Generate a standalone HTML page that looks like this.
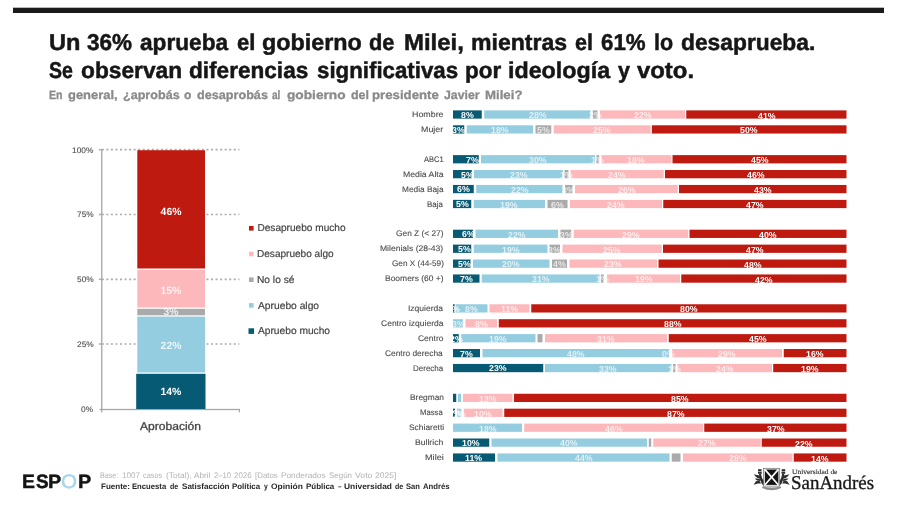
<!DOCTYPE html>
<html lang="es">
<head>
<meta charset="utf-8">
<title>Aprobación del gobierno de Milei</title>
<style>
html,body{margin:0;padding:0;background:#fff;}
body{width:900px;height:505px;position:relative;overflow:hidden;font-family:"Liberation Sans",sans-serif;color:#111;}
#pg{position:absolute;left:0;top:0;width:900px;height:505px;overflow:hidden;filter:blur(0.5px);}
.t{position:absolute;white-space:nowrap;line-height:1;transform-origin:0 0;text-rendering:geometricPrecision;}
.l{position:absolute;margin:0;white-space:nowrap;line-height:1;font-size:0;}
.w{display:inline-block;font-size:var(--fs);line-height:1;transform-origin:0 0;text-rendering:geometricPrecision;}
.b{position:absolute;}
</style>
</head>
<body>
<div id="pg">
<svg class="b" style="left:0;top:0" width="900" height="505" viewBox="0 0 900 505">
<rect x="13" y="7.7" width="871" height="5.3" fill="#1b1b1b"/>
<line x1="98.8" x2="101.5" y1="344.00" y2="344.00" stroke="#b0b0b0" stroke-width="1.5"/>
<line x1="101.8" x2="239.4" y1="344.00" y2="344.00" stroke="#ababab" stroke-width="1.7" stroke-dasharray="2 2.55"/>
<line x1="98.8" x2="101.5" y1="279.30" y2="279.30" stroke="#b0b0b0" stroke-width="1.5"/>
<line x1="101.8" x2="239.4" y1="279.30" y2="279.30" stroke="#ababab" stroke-width="1.7" stroke-dasharray="2 2.55"/>
<line x1="98.8" x2="101.5" y1="214.50" y2="214.50" stroke="#b0b0b0" stroke-width="1.5"/>
<line x1="101.8" x2="239.4" y1="214.50" y2="214.50" stroke="#ababab" stroke-width="1.7" stroke-dasharray="2 2.55"/>
<line x1="98.8" x2="101.5" y1="149.70" y2="149.70" stroke="#b0b0b0" stroke-width="1.5"/>
<line x1="101.8" x2="239.4" y1="149.70" y2="149.70" stroke="#ababab" stroke-width="1.7" stroke-dasharray="2 2.55"/>
<rect x="101.10" y="149.00" width="1.30" height="263.40" fill="#a6a6a6"/>
<rect x="99.50" y="408.85" width="140.30" height="1.30" fill="#a6a6a6"/>
<rect x="238.80" y="409.00" width="1.20" height="3.40" fill="#a6a6a6"/>
<rect x="136.20" y="373.80" width="69.30" height="35.20" fill="#075a73"/>
<rect x="137.30" y="316.60" width="67.70" height="55.90" fill="#94cddf"/>
<rect x="137.30" y="308.80" width="67.70" height="6.50" fill="#aaaaaa"/>
<rect x="137.30" y="269.80" width="67.70" height="37.70" fill="#fdb8bb"/>
<rect x="137.30" y="150.20" width="67.70" height="118.30" fill="#be1a10"/>
<rect x="249.00" y="226.00" width="4.60" height="4.60" fill="#be1a10"/>
<rect x="249.00" y="251.70" width="4.60" height="4.60" fill="#fdb8bb"/>
<rect x="249.00" y="277.40" width="4.60" height="4.60" fill="#aaaaaa"/>
<rect x="249.00" y="303.10" width="4.60" height="4.60" fill="#94cddf"/>
<rect x="248.50" y="328.30" width="5.60" height="5.60" fill="#075a73"/>
<rect x="453.00" y="110.38" width="28.75" height="8.25" fill="#075a73"/>
<rect x="484.25" y="110.38" width="106.25" height="8.25" fill="#94cddf"/>
<rect x="592.75" y="110.38" width="4.75" height="8.25" fill="#aaaaaa"/>
<rect x="600.00" y="110.38" width="85.00" height="8.25" fill="#fdb8bb"/>
<rect x="686.25" y="110.38" width="160.25" height="8.25" fill="#be1a10"/>
<rect x="453.00" y="125.29" width="11.25" height="8.25" fill="#075a73"/>
<rect x="466.75" y="125.29" width="66.25" height="8.25" fill="#94cddf"/>
<rect x="535.50" y="125.29" width="15.75" height="8.25" fill="#aaaaaa"/>
<rect x="553.75" y="125.29" width="96.85" height="8.25" fill="#fdb8bb"/>
<rect x="651.90" y="125.29" width="194.60" height="8.25" fill="#be1a10"/>
<rect x="453.00" y="155.12" width="25.75" height="8.25" fill="#075a73"/>
<rect x="481.00" y="155.12" width="114.00" height="8.25" fill="#94cddf"/>
<rect x="596.40" y="155.12" width="2.80" height="8.25" fill="#aaaaaa"/>
<rect x="601.25" y="155.12" width="70.00" height="8.25" fill="#fdb8bb"/>
<rect x="672.50" y="155.12" width="174.00" height="8.25" fill="#be1a10"/>
<rect x="453.00" y="170.03" width="18.75" height="8.25" fill="#075a73"/>
<rect x="474.00" y="170.03" width="89.00" height="8.25" fill="#94cddf"/>
<rect x="564.60" y="170.03" width="3.80" height="8.25" fill="#aaaaaa"/>
<rect x="570.50" y="170.03" width="93.25" height="8.25" fill="#fdb8bb"/>
<rect x="665.00" y="170.03" width="181.50" height="8.25" fill="#be1a10"/>
<rect x="453.00" y="184.95" width="20.75" height="8.25" fill="#075a73"/>
<rect x="476.25" y="184.95" width="86.25" height="8.25" fill="#94cddf"/>
<rect x="565.00" y="184.95" width="7.50" height="8.25" fill="#aaaaaa"/>
<rect x="575.00" y="184.95" width="102.75" height="8.25" fill="#fdb8bb"/>
<rect x="679.00" y="184.95" width="167.50" height="8.25" fill="#be1a10"/>
<rect x="453.00" y="199.87" width="18.25" height="8.25" fill="#075a73"/>
<rect x="473.75" y="199.87" width="71.25" height="8.25" fill="#94cddf"/>
<rect x="547.50" y="199.87" width="20.00" height="8.25" fill="#aaaaaa"/>
<rect x="570.00" y="199.87" width="92.00" height="8.25" fill="#fdb8bb"/>
<rect x="663.25" y="199.87" width="183.25" height="8.25" fill="#be1a10"/>
<rect x="453.00" y="229.69" width="20.00" height="8.25" fill="#075a73"/>
<rect x="475.50" y="229.69" width="82.50" height="8.25" fill="#94cddf"/>
<rect x="560.50" y="229.69" width="10.75" height="8.25" fill="#aaaaaa"/>
<rect x="573.75" y="229.69" width="114.45" height="8.25" fill="#fdb8bb"/>
<rect x="689.50" y="229.69" width="157.00" height="8.25" fill="#be1a10"/>
<rect x="453.00" y="244.61" width="18.25" height="8.25" fill="#075a73"/>
<rect x="473.75" y="244.61" width="73.75" height="8.25" fill="#94cddf"/>
<rect x="549.50" y="244.61" width="10.50" height="8.25" fill="#aaaaaa"/>
<rect x="562.50" y="244.61" width="99.25" height="8.25" fill="#fdb8bb"/>
<rect x="663.00" y="244.61" width="183.50" height="8.25" fill="#be1a10"/>
<rect x="453.00" y="259.52" width="17.50" height="8.25" fill="#075a73"/>
<rect x="473.00" y="259.52" width="76.50" height="8.25" fill="#94cddf"/>
<rect x="552.00" y="259.52" width="15.00" height="8.25" fill="#aaaaaa"/>
<rect x="569.50" y="259.52" width="87.50" height="8.25" fill="#fdb8bb"/>
<rect x="658.50" y="259.52" width="188.00" height="8.25" fill="#be1a10"/>
<rect x="453.00" y="274.44" width="26.50" height="8.25" fill="#075a73"/>
<rect x="481.75" y="274.44" width="117.75" height="8.25" fill="#94cddf"/>
<rect x="600.90" y="274.44" width="2.80" height="8.25" fill="#aaaaaa"/>
<rect x="607.00" y="274.44" width="73.00" height="8.25" fill="#fdb8bb"/>
<rect x="681.25" y="274.44" width="165.25" height="8.25" fill="#be1a10"/>
<rect x="453.00" y="304.27" width="1.60" height="8.25" fill="#075a73"/>
<rect x="455.60" y="304.27" width="31.90" height="8.25" fill="#94cddf"/>
<rect x="489.50" y="304.27" width="40.00" height="8.25" fill="#fdb8bb"/>
<rect x="531.25" y="304.27" width="315.25" height="8.25" fill="#be1a10"/>
<rect x="453.00" y="319.19" width="10.00" height="8.25" fill="#94cddf"/>
<rect x="465.50" y="319.19" width="31.50" height="8.25" fill="#fdb8bb"/>
<rect x="498.75" y="319.19" width="347.75" height="8.25" fill="#be1a10"/>
<rect x="453.00" y="334.10" width="5.75" height="8.25" fill="#075a73"/>
<rect x="461.25" y="334.10" width="74.25" height="8.25" fill="#94cddf"/>
<rect x="537.50" y="334.10" width="5.00" height="8.25" fill="#aaaaaa"/>
<rect x="545.00" y="334.10" width="122.20" height="8.25" fill="#fdb8bb"/>
<rect x="668.75" y="334.10" width="177.75" height="8.25" fill="#be1a10"/>
<rect x="453.00" y="349.01" width="27.00" height="8.25" fill="#075a73"/>
<rect x="482.50" y="349.01" width="186.70" height="8.25" fill="#94cddf"/>
<rect x="672.00" y="349.01" width="110.00" height="8.25" fill="#fdb8bb"/>
<rect x="783.75" y="349.01" width="62.75" height="8.25" fill="#be1a10"/>
<rect x="453.00" y="363.93" width="90.25" height="8.25" fill="#075a73"/>
<rect x="545.00" y="363.93" width="126.40" height="8.25" fill="#94cddf"/>
<rect x="673.00" y="363.93" width="2.60" height="8.25" fill="#aaaaaa"/>
<rect x="677.50" y="363.93" width="94.50" height="8.25" fill="#fdb8bb"/>
<rect x="773.20" y="363.93" width="73.30" height="8.25" fill="#be1a10"/>
<rect x="453.00" y="393.76" width="3.25" height="8.25" fill="#075a73"/>
<rect x="458.00" y="393.76" width="3.00" height="8.25" fill="#94cddf"/>
<rect x="463.00" y="393.76" width="49.50" height="8.25" fill="#fdb8bb"/>
<rect x="514.00" y="393.76" width="332.50" height="8.25" fill="#be1a10"/>
<rect x="453.00" y="408.67" width="2.00" height="8.25" fill="#075a73"/>
<rect x="457.00" y="408.67" width="4.25" height="8.25" fill="#94cddf"/>
<rect x="463.75" y="408.67" width="38.75" height="8.25" fill="#fdb8bb"/>
<rect x="504.25" y="408.67" width="342.25" height="8.25" fill="#be1a10"/>
<rect x="453.00" y="423.59" width="69.00" height="8.25" fill="#94cddf"/>
<rect x="524.25" y="423.59" width="178.75" height="8.25" fill="#fdb8bb"/>
<rect x="704.25" y="423.59" width="142.25" height="8.25" fill="#be1a10"/>
<rect x="453.00" y="438.50" width="36.25" height="8.25" fill="#075a73"/>
<rect x="491.50" y="438.50" width="155.50" height="8.25" fill="#94cddf"/>
<rect x="648.75" y="438.50" width="2.50" height="8.25" fill="#aaaaaa"/>
<rect x="653.25" y="438.50" width="107.50" height="8.25" fill="#fdb8bb"/>
<rect x="761.75" y="438.50" width="84.75" height="8.25" fill="#be1a10"/>
<rect x="453.00" y="453.42" width="42.00" height="8.25" fill="#075a73"/>
<rect x="497.50" y="453.42" width="172.00" height="8.25" fill="#94cddf"/>
<rect x="671.75" y="453.42" width="8.75" height="8.25" fill="#aaaaaa"/>
<rect x="683.00" y="453.42" width="109.50" height="8.25" fill="#fdb8bb"/>
<rect x="793.75" y="453.42" width="52.75" height="8.25" fill="#be1a10"/>
<g transform="translate(750 465)">
<rect x="13.5" y="3.3" width="16.2" height="17.8" fill="#fff" stroke="#6a6a6a" stroke-width=".7"/>
<rect x="14.8" y="4.5" width="13.6" height="15.4" fill="#141414"/>
<path d="M15 4.6 L28.2 19.8 M28.2 4.6 L15 19.8" stroke="#fff" stroke-width="1.7" fill="none"/>
<g fill="#2e2e2e">
<rect x="8" y="4.2" width="3.5" height="1.9"/><rect x="8" y="6.6" width="3.7" height="2.2"/>
<path d="M9 8.8 L11 8.8 L12 13 L13.4 15.6 L13.4 20.6 L11.6 18.4 L10.6 16 L9.4 13 Z"/>
<path d="M3.8 9.2 L7 10 L9.6 10.6 L10.4 13.6 L7.4 13 L5.6 11.6 Z"/>
<path d="M3.6 19.8 L6 16.2 L9.4 15.6 L11 18.4 L8 18.6 Z"/>
<path d="M4.6 13.6 L9.6 13.8 L10.6 16 L7 15.6 Z"/>
<rect x="31.7" y="4.2" width="3.5" height="1.9"/><rect x="31.5" y="6.6" width="3.7" height="2.2"/>
<path d="M34.2 8.8 L32.2 8.8 L31.2 13 L29.8 15.6 L29.8 20.6 L31.6 18.4 L32.6 16 L33.8 13 Z"/>
<path d="M39.4 9.2 L36.2 10 L33.6 10.6 L32.8 13.6 L35.8 13 L37.6 11.6 Z"/>
<path d="M39.6 19.8 L37.2 16.2 L33.8 15.6 L32.2 18.4 L35.2 18.6 Z"/>
<path d="M38.6 13.6 L33.6 13.8 L32.6 16 L36.2 15.6 Z"/>
</g>
<path d="M12.4 21.5 Q21.6 23.6 30.8 21.5 L31.2 23 Q21.6 27.6 12 23 Z" fill="#8e8e8e"/>
</g>
</svg>

<h1 class="l" style="left:48.51px;top:30.85px;color:#161616;font-weight:bold;-webkit-text-stroke:.5px;--fs:22.9px"><span class="w" style="transform:scaleX(1.0291);">Un</span> <span class="w" style="margin-left:7.836px;transform:scaleX(0.9832);">36%</span> <span class="w" style="margin-left:6.921px;transform:scaleX(0.9898);">aprueba</span> <span class="w" style="margin-left:7.916px;transform:scaleX(0.9636);">el</span> <span class="w" style="margin-left:6.350px;transform:scaleX(1.0198);">gobierno</span> <span class="w" style="margin-left:9.446px;transform:scaleX(0.9520);">de</span> <span class="w" style="margin-left:7.566px;transform:scaleX(1.0452);">Milei,</span> <span class="w" style="margin-left:9.806px;transform:scaleX(1.0075);">mientras</span> <span class="w" style="margin-left:8.950px;transform:scaleX(0.9394);">el</span> <span class="w" style="margin-left:7.316px;transform:scaleX(0.9730);">61%</span> <span class="w" style="margin-left:6.493px;transform:scaleX(0.9389);">lo</span> <span class="w" style="margin-left:7.069px;transform:scaleX(0.9958);">desaprueba.</span></h1>
<h1 class="l" style="left:49.01px;top:58.85px;color:#161616;font-weight:bold;-webkit-text-stroke:.5px;--fs:22.9px"><span class="w" style="transform:scaleX(0.8528);">Se</span> <span class="w" style="margin-left:3.647px;transform:scaleX(0.9930);">observan</span> <span class="w" style="margin-left:6.425px;transform:scaleX(0.9866);">diferencias</span> <span class="w" style="margin-left:6.882px;transform:scaleX(0.9731);">significativas</span> <span class="w" style="margin-left:3.013px;transform:scaleX(0.9800);">por</span> <span class="w" style="margin-left:6.470px;transform:scaleX(1.0166);">ideología</span> <span class="w" style="margin-left:9.506px;transform:scaleX(0.9388);">y</span> <span class="w" style="margin-left:6.040px;transform:scaleX(1.0427);">voto.</span></h1>
<h2 class="l" style="left:49.09px;top:89.45px;color:#8a8a8a;font-weight:bold;-webkit-text-stroke:.3px;--fs:12.1px"><span class="w" style="transform:scaleX(0.8786);">En</span> <span class="w" style="margin-left:3.355px;transform:scaleX(1.0711);">general,</span> <span class="w" style="margin-left:8.365px;transform:scaleX(1.0404);">¿aprobás</span> <span class="w" style="margin-left:7.043px;transform:scaleX(1.0000);">o</span> <span class="w" style="margin-left:5.087px;transform:scaleX(1.0448);">desaprobás</span> <span class="w" style="margin-left:7.715px;transform:scaleX(0.8343);">al</span> <span class="w" style="margin-left:4.257px;transform:scaleX(1.1330);">gobierno</span> <span class="w" style="margin-left:12.418px;transform:scaleX(1.0277);">del</span> <span class="w" style="margin-left:4.209px;transform:scaleX(1.0933);">presidente</span> <span class="w" style="margin-left:10.694px;transform:scaleX(1.0174);">Javier</span> <span class="w" style="margin-left:6.150px;transform:scaleX(1.0931);">Milei?</span></h2>
<div class="t" style="left:81.30px;top:405.75px;font-size:8.0px;color:#4c4c4c;transform:scaleX(1.0400);-webkit-text-stroke:.1px;">0%</div>
<div class="t" style="left:76.62px;top:340.95px;font-size:8.0px;color:#4c4c4c;transform:scaleX(1.0400);-webkit-text-stroke:.1px;">25%</div>
<div class="t" style="left:76.62px;top:276.25px;font-size:8.0px;color:#4c4c4c;transform:scaleX(1.0400);-webkit-text-stroke:.1px;">50%</div>
<div class="t" style="left:76.62px;top:211.45px;font-size:8.0px;color:#4c4c4c;transform:scaleX(1.0400);-webkit-text-stroke:.1px;">75%</div>
<div class="t" style="left:71.94px;top:146.65px;font-size:8.0px;color:#4c4c4c;transform:scaleX(1.0400);-webkit-text-stroke:.1px;">100%</div>
<div class="t" style="left:160.38px;top:388.40px;font-size:10.4px;font-weight:bold;color:#fff;">14%</div>
<div class="t" style="left:160.62px;top:341.90px;font-size:10.4px;font-weight:bold;color:rgba(255,255,255,.8);">22%</div>
<div class="t" style="left:163.50px;top:308.40px;font-size:10.4px;font-weight:bold;color:rgba(255,255,255,.8);">3%</div>
<div class="t" style="left:160.38px;top:286.50px;font-size:10.4px;font-weight:bold;color:rgba(255,255,255,.8);">15%</div>
<div class="t" style="left:160.62px;top:207.60px;font-size:10.4px;font-weight:bold;color:#fff;">46%</div>
<div class="t" style="left:140.30px;top:421.70px;font-size:11.3px;color:#444;transform:scaleX(1.0673);-webkit-text-stroke:.3px;">Aprobación</div>
<div class="t" style="left:257.45px;top:224.45px;font-size:10.1px;color:#444;-webkit-text-stroke:.2px;">Desapruebo mucho</div>
<div class="t" style="left:257.45px;top:250.15px;font-size:10.1px;color:#444;transform:scaleX(0.9967);-webkit-text-stroke:.2px;">Desapruebo algo</div>
<div class="t" style="left:257.44px;top:275.85px;font-size:10.1px;color:#444;transform:scaleX(1.0098);-webkit-text-stroke:.2px;">No lo sé</div>
<div class="t" style="left:258.20px;top:301.55px;font-size:10.1px;color:#444;transform:scaleX(1.0168);-webkit-text-stroke:.2px;">Apruebo algo</div>
<div class="t" style="left:258.20px;top:327.25px;font-size:10.1px;color:#444;transform:scaleX(1.0106);-webkit-text-stroke:.2px;">Apruebo mucho</div>
<div class="t" style="left:411.97px;top:111.05px;font-size:8.05px;color:#4a4a4a;transform:scaleX(1.1018);-webkit-text-stroke:.1px;">Hombre</div>
<div class="t" style="left:421.07px;top:125.97px;font-size:8.05px;color:#4a4a4a;transform:scaleX(1.1013);-webkit-text-stroke:.1px;">Mujer</div>
<div class="t" style="left:423.70px;top:155.80px;font-size:8.05px;color:#4a4a4a;transform:scaleX(0.9349);-webkit-text-stroke:.1px;">ABC1</div>
<div class="t" style="left:402.59px;top:170.71px;font-size:8.05px;color:#4a4a4a;transform:scaleX(1.0803);-webkit-text-stroke:.1px;">Media Alta</div>
<div class="t" style="left:401.53px;top:185.62px;font-size:8.05px;color:#4a4a4a;transform:scaleX(1.0329);-webkit-text-stroke:.1px;">Media Baja</div>
<div class="t" style="left:427.26px;top:200.54px;font-size:8.05px;color:#4a4a4a;transform:scaleX(0.9902);-webkit-text-stroke:.1px;">Baja</div>
<div class="t" style="left:396.18px;top:230.37px;font-size:8.05px;color:#4a4a4a;transform:scaleX(1.0369);-webkit-text-stroke:.1px;">Gen Z (&lt; 27)</div>
<div class="t" style="left:380.40px;top:245.28px;font-size:8.05px;color:#4a4a4a;transform:scaleX(1.0627);-webkit-text-stroke:.1px;">Milenials (28-43)</div>
<div class="t" style="left:391.69px;top:260.20px;font-size:8.05px;color:#4a4a4a;transform:scaleX(1.0180);-webkit-text-stroke:.1px;">Gen X (44-59)</div>
<div class="t" style="left:384.91px;top:275.12px;font-size:8.05px;color:#4a4a4a;transform:scaleX(1.0532);-webkit-text-stroke:.1px;">Boomers (60 +)</div>
<div class="t" style="left:408.21px;top:304.94px;font-size:8.05px;color:#4a4a4a;transform:scaleX(1.0574);-webkit-text-stroke:.1px;">Izquierda</div>
<div class="t" style="left:380.67px;top:319.86px;font-size:8.05px;color:#4a4a4a;transform:scaleX(1.0581);-webkit-text-stroke:.1px;">Centro izquierda</div>
<div class="t" style="left:418.07px;top:334.78px;font-size:8.05px;color:#4a4a4a;transform:scaleX(1.0538);-webkit-text-stroke:.1px;">Centro</div>
<div class="t" style="left:385.38px;top:349.69px;font-size:8.05px;color:#4a4a4a;transform:scaleX(1.0400);-webkit-text-stroke:.1px;">Centro derecha</div>
<div class="t" style="left:412.75px;top:364.60px;font-size:8.05px;color:#4a4a4a;transform:scaleX(0.9950);-webkit-text-stroke:.1px;">Derecha</div>
<div class="t" style="left:409.52px;top:394.44px;font-size:8.05px;color:#4a4a4a;transform:scaleX(1.0413);-webkit-text-stroke:.1px;">Bregman</div>
<div class="t" style="left:420.33px;top:409.35px;font-size:8.05px;color:#4a4a4a;transform:scaleX(0.9587);-webkit-text-stroke:.1px;">Massa</div>
<div class="t" style="left:408.53px;top:424.26px;font-size:8.05px;color:#4a4a4a;transform:scaleX(1.0477);-webkit-text-stroke:.1px;">Schiaretti</div>
<div class="t" style="left:415.25px;top:439.18px;font-size:8.05px;color:#4a4a4a;transform:scaleX(1.0713);-webkit-text-stroke:.1px;">Bullrich</div>
<div class="t" style="left:424.95px;top:454.09px;font-size:8.05px;color:#4a4a4a;transform:scaleX(1.1344);-webkit-text-stroke:.1px;">Milei</div>
<div class="t" style="left:461.00px;top:110.90px;font-size:8.6px;font-weight:bold;color:#fff;transform:scaleX(1.0200);">8%</div>
<div class="t" style="left:528.58px;top:111.30px;font-size:8.6px;font-weight:bold;color:rgba(255,255,255,.72);transform:scaleX(1.0200);">28%</div>
<div class="t" style="left:588.75px;top:111.30px;font-size:8.6px;font-weight:bold;color:rgba(255,255,255,.72);transform:scaleX(1.0200);">2%</div>
<div class="t" style="left:633.70px;top:111.30px;font-size:8.6px;font-weight:bold;color:rgba(255,255,255,.72);transform:scaleX(1.0200);">22%</div>
<div class="t" style="left:757.58px;top:111.55px;font-size:8.6px;font-weight:bold;color:#fff;transform:scaleX(1.0200);">41%</div>
<div class="t" style="left:452.25px;top:125.81px;font-size:8.6px;font-weight:bold;color:#fff;transform:scaleX(1.0200);">3%</div>
<div class="t" style="left:490.95px;top:126.22px;font-size:8.6px;font-weight:bold;color:rgba(255,255,255,.72);transform:scaleX(1.0200);">18%</div>
<div class="t" style="left:537.00px;top:126.22px;font-size:8.6px;font-weight:bold;color:rgba(255,255,255,.72);transform:scaleX(1.0200);">5%</div>
<div class="t" style="left:593.38px;top:126.22px;font-size:8.6px;font-weight:bold;color:rgba(255,255,255,.72);transform:scaleX(1.0200);">25%</div>
<div class="t" style="left:740.40px;top:126.47px;font-size:8.6px;font-weight:bold;color:#fff;transform:scaleX(1.0200);">50%</div>
<div class="t" style="left:466.02px;top:155.65px;font-size:8.6px;font-weight:bold;color:#fff;transform:scaleX(1.0200);">7%</div>
<div class="t" style="left:529.20px;top:156.05px;font-size:8.6px;font-weight:bold;color:rgba(255,255,255,.72);transform:scaleX(1.0200);">30%</div>
<div class="t" style="left:591.30px;top:156.05px;font-size:8.6px;font-weight:bold;color:rgba(255,255,255,.72);transform:scaleX(1.0200);">1%</div>
<div class="t" style="left:627.33px;top:156.05px;font-size:8.6px;font-weight:bold;color:rgba(255,255,255,.72);transform:scaleX(1.0200);">18%</div>
<div class="t" style="left:750.70px;top:156.30px;font-size:8.6px;font-weight:bold;color:#fff;transform:scaleX(1.0200);">45%</div>
<div class="t" style="left:461.02px;top:170.56px;font-size:8.6px;font-weight:bold;color:#fff;transform:scaleX(1.0200);">5%</div>
<div class="t" style="left:509.70px;top:170.96px;font-size:8.6px;font-weight:bold;color:rgba(255,255,255,.72);transform:scaleX(1.0200);">23%</div>
<div class="t" style="left:560.00px;top:170.96px;font-size:8.6px;font-weight:bold;color:rgba(255,255,255,.72);transform:scaleX(1.0200);">1%</div>
<div class="t" style="left:608.33px;top:170.96px;font-size:8.6px;font-weight:bold;color:rgba(255,255,255,.72);transform:scaleX(1.0200);">24%</div>
<div class="t" style="left:746.95px;top:171.21px;font-size:8.6px;font-weight:bold;color:#fff;transform:scaleX(1.0200);">46%</div>
<div class="t" style="left:457.00px;top:185.47px;font-size:8.6px;font-weight:bold;color:#fff;transform:scaleX(1.0200);">6%</div>
<div class="t" style="left:510.58px;top:185.88px;font-size:8.6px;font-weight:bold;color:rgba(255,255,255,.72);transform:scaleX(1.0200);">22%</div>
<div class="t" style="left:562.38px;top:185.88px;font-size:8.6px;font-weight:bold;color:rgba(255,255,255,.72);transform:scaleX(1.0200);">3%</div>
<div class="t" style="left:617.58px;top:185.88px;font-size:8.6px;font-weight:bold;color:rgba(255,255,255,.72);transform:scaleX(1.0200);">26%</div>
<div class="t" style="left:753.95px;top:186.12px;font-size:8.6px;font-weight:bold;color:#fff;transform:scaleX(1.0200);">43%</div>
<div class="t" style="left:455.75px;top:200.39px;font-size:8.6px;font-weight:bold;color:#fff;transform:scaleX(1.0200);">5%</div>
<div class="t" style="left:500.45px;top:200.79px;font-size:8.6px;font-weight:bold;color:rgba(255,255,255,.72);transform:scaleX(1.0200);">19%</div>
<div class="t" style="left:551.12px;top:200.79px;font-size:8.6px;font-weight:bold;color:rgba(255,255,255,.72);transform:scaleX(1.0200);">6%</div>
<div class="t" style="left:607.20px;top:200.79px;font-size:8.6px;font-weight:bold;color:rgba(255,255,255,.72);transform:scaleX(1.0200);">24%</div>
<div class="t" style="left:746.08px;top:201.04px;font-size:8.6px;font-weight:bold;color:#fff;transform:scaleX(1.0200);">47%</div>
<div class="t" style="left:461.62px;top:230.22px;font-size:8.6px;font-weight:bold;color:#fff;transform:scaleX(1.0200);">6%</div>
<div class="t" style="left:507.95px;top:230.62px;font-size:8.6px;font-weight:bold;color:rgba(255,255,255,.72);transform:scaleX(1.0200);">22%</div>
<div class="t" style="left:559.50px;top:230.62px;font-size:8.6px;font-weight:bold;color:rgba(255,255,255,.72);transform:scaleX(1.0200);">3%</div>
<div class="t" style="left:622.18px;top:230.62px;font-size:8.6px;font-weight:bold;color:rgba(255,255,255,.72);transform:scaleX(1.0200);">29%</div>
<div class="t" style="left:759.20px;top:230.87px;font-size:8.6px;font-weight:bold;color:#fff;transform:scaleX(1.0200);">40%</div>
<div class="t" style="left:457.93px;top:245.13px;font-size:8.6px;font-weight:bold;color:#fff;transform:scaleX(1.0200);">5%</div>
<div class="t" style="left:501.70px;top:245.53px;font-size:8.6px;font-weight:bold;color:rgba(255,255,255,.72);transform:scaleX(1.0200);">19%</div>
<div class="t" style="left:548.38px;top:245.53px;font-size:8.6px;font-weight:bold;color:rgba(255,255,255,.72);transform:scaleX(1.0200);">3%</div>
<div class="t" style="left:603.33px;top:245.53px;font-size:8.6px;font-weight:bold;color:rgba(255,255,255,.72);transform:scaleX(1.0200);">25%</div>
<div class="t" style="left:745.95px;top:245.78px;font-size:8.6px;font-weight:bold;color:#fff;transform:scaleX(1.0200);">47%</div>
<div class="t" style="left:457.93px;top:260.05px;font-size:8.6px;font-weight:bold;color:#fff;transform:scaleX(1.0200);">5%</div>
<div class="t" style="left:502.45px;top:260.45px;font-size:8.6px;font-weight:bold;color:rgba(255,255,255,.72);transform:scaleX(1.0200);">20%</div>
<div class="t" style="left:553.12px;top:260.45px;font-size:8.6px;font-weight:bold;color:rgba(255,255,255,.72);transform:scaleX(1.0200);">4%</div>
<div class="t" style="left:604.45px;top:260.45px;font-size:8.6px;font-weight:bold;color:rgba(255,255,255,.72);transform:scaleX(1.0200);">23%</div>
<div class="t" style="left:743.70px;top:260.70px;font-size:8.6px;font-weight:bold;color:#fff;transform:scaleX(1.0200);">48%</div>
<div class="t" style="left:459.88px;top:274.96px;font-size:8.6px;font-weight:bold;color:#fff;transform:scaleX(1.0200);">7%</div>
<div class="t" style="left:531.83px;top:275.37px;font-size:8.6px;font-weight:bold;color:rgba(255,255,255,.72);transform:scaleX(1.0200);">31%</div>
<div class="t" style="left:595.80px;top:275.37px;font-size:8.6px;font-weight:bold;color:rgba(255,255,255,.72);transform:scaleX(1.0200);">1%</div>
<div class="t" style="left:634.58px;top:275.37px;font-size:8.6px;font-weight:bold;color:rgba(255,255,255,.72);transform:scaleX(1.0200);">19%</div>
<div class="t" style="left:755.08px;top:275.62px;font-size:8.6px;font-weight:bold;color:#fff;transform:scaleX(1.0200);">42%</div>
<div class="t" style="left:447.30px;top:304.79px;font-size:8.6px;font-weight:bold;color:#fff;transform:scaleX(1.0200);">1%</div>
<div class="t" style="left:465.18px;top:305.19px;font-size:8.6px;font-weight:bold;color:rgba(255,255,255,.72);transform:scaleX(1.0200);">8%</div>
<div class="t" style="left:500.83px;top:305.19px;font-size:8.6px;font-weight:bold;color:rgba(255,255,255,.72);transform:scaleX(1.0200);">11%</div>
<div class="t" style="left:680.08px;top:305.44px;font-size:8.6px;font-weight:bold;color:#fff;transform:scaleX(1.0200);">80%</div>
<div class="t" style="left:451.62px;top:320.11px;font-size:8.6px;font-weight:bold;color:rgba(255,255,255,.72);transform:scaleX(1.0200);">3%</div>
<div class="t" style="left:474.88px;top:320.11px;font-size:8.6px;font-weight:bold;color:rgba(255,255,255,.72);transform:scaleX(1.0200);">8%</div>
<div class="t" style="left:663.83px;top:320.36px;font-size:8.6px;font-weight:bold;color:#fff;transform:scaleX(1.0200);">88%</div>
<div class="t" style="left:449.50px;top:334.62px;font-size:8.6px;font-weight:bold;color:#fff;transform:scaleX(1.0200);">2%</div>
<div class="t" style="left:489.45px;top:335.03px;font-size:8.6px;font-weight:bold;color:rgba(255,255,255,.72);transform:scaleX(1.0200);">19%</div>
<div class="t" style="left:597.30px;top:335.03px;font-size:8.6px;font-weight:bold;color:rgba(255,255,255,.72);transform:scaleX(1.0200);">31%</div>
<div class="t" style="left:748.83px;top:335.28px;font-size:8.6px;font-weight:bold;color:#fff;transform:scaleX(1.0200);">45%</div>
<div class="t" style="left:460.12px;top:349.54px;font-size:8.6px;font-weight:bold;color:#fff;transform:scaleX(1.0200);">7%</div>
<div class="t" style="left:567.05px;top:349.94px;font-size:8.6px;font-weight:bold;color:rgba(255,255,255,.72);transform:scaleX(1.0200);">48%</div>
<div class="t" style="left:718.20px;top:349.94px;font-size:8.6px;font-weight:bold;color:rgba(255,255,255,.72);transform:scaleX(1.0200);">29%</div>
<div class="t" style="left:806.20px;top:350.19px;font-size:8.6px;font-weight:bold;color:#fff;transform:scaleX(1.0200);">16%</div>
<div class="t" style="left:662.12px;top:349.94px;font-size:8.6px;font-weight:bold;color:rgba(255,255,255,.72);transform:scaleX(1.0200);">0%</div>
<div class="t" style="left:489.33px;top:364.45px;font-size:8.6px;font-weight:bold;color:#fff;transform:scaleX(1.0200);">23%</div>
<div class="t" style="left:599.40px;top:364.85px;font-size:8.6px;font-weight:bold;color:rgba(255,255,255,.72);transform:scaleX(1.0200);">33%</div>
<div class="t" style="left:667.80px;top:364.85px;font-size:8.6px;font-weight:bold;color:rgba(255,255,255,.72);transform:scaleX(1.0200);">1%</div>
<div class="t" style="left:715.95px;top:364.85px;font-size:8.6px;font-weight:bold;color:rgba(255,255,255,.72);transform:scaleX(1.0200);">24%</div>
<div class="t" style="left:800.93px;top:365.10px;font-size:8.6px;font-weight:bold;color:#fff;transform:scaleX(1.0200);">19%</div>
<div class="t" style="left:478.82px;top:394.69px;font-size:8.6px;font-weight:bold;color:rgba(255,255,255,.72);transform:scaleX(1.0200);">13%</div>
<div class="t" style="left:671.45px;top:394.94px;font-size:8.6px;font-weight:bold;color:#fff;transform:scaleX(1.0200);">85%</div>
<div class="t" style="left:447.50px;top:409.20px;font-size:8.6px;font-weight:bold;color:#fff;transform:scaleX(1.0200);">1%</div>
<div class="t" style="left:452.62px;top:409.60px;font-size:8.6px;font-weight:bold;color:rgba(255,255,255,.72);transform:scaleX(1.0200);">1%</div>
<div class="t" style="left:474.20px;top:409.60px;font-size:8.6px;font-weight:bold;color:rgba(255,255,255,.72);transform:scaleX(1.0200);">10%</div>
<div class="t" style="left:666.58px;top:409.85px;font-size:8.6px;font-weight:bold;color:#fff;transform:scaleX(1.0200);">87%</div>
<div class="t" style="left:478.57px;top:424.51px;font-size:8.6px;font-weight:bold;color:rgba(255,255,255,.72);transform:scaleX(1.0200);">18%</div>
<div class="t" style="left:604.83px;top:424.51px;font-size:8.6px;font-weight:bold;color:rgba(255,255,255,.72);transform:scaleX(1.0200);">46%</div>
<div class="t" style="left:766.58px;top:424.76px;font-size:8.6px;font-weight:bold;color:#fff;transform:scaleX(1.0200);">37%</div>
<div class="t" style="left:462.20px;top:439.03px;font-size:8.6px;font-weight:bold;color:#fff;transform:scaleX(1.0200);">10%</div>
<div class="t" style="left:560.45px;top:439.43px;font-size:8.6px;font-weight:bold;color:rgba(255,255,255,.72);transform:scaleX(1.0200);">40%</div>
<div class="t" style="left:698.20px;top:439.43px;font-size:8.6px;font-weight:bold;color:rgba(255,255,255,.72);transform:scaleX(1.0200);">27%</div>
<div class="t" style="left:795.33px;top:439.68px;font-size:8.6px;font-weight:bold;color:#fff;transform:scaleX(1.0200);">22%</div>
<div class="t" style="left:465.33px;top:453.94px;font-size:8.6px;font-weight:bold;color:#fff;transform:scaleX(1.0200);">11%</div>
<div class="t" style="left:574.70px;top:454.34px;font-size:8.6px;font-weight:bold;color:rgba(255,255,255,.72);transform:scaleX(1.0200);">44%</div>
<div class="t" style="left:728.95px;top:454.34px;font-size:8.6px;font-weight:bold;color:rgba(255,255,255,.72);transform:scaleX(1.0200);">28%</div>
<div class="t" style="left:811.20px;top:454.59px;font-size:8.6px;font-weight:bold;color:#fff;transform:scaleX(1.0200);">14%</div>
<p class="l" style="left:100.44px;top:472.30px;color:#b2b2b2;--fs:8.1px"><span class="w" style="transform:scaleX(0.8779);">Base:</span> <span class="w" style="margin-left:1.158px;transform:scaleX(0.9941);">1007</span> <span class="w" style="margin-left:3.055px;transform:scaleX(0.9073);">casos</span> <span class="w" style="margin-left:1.551px;transform:scaleX(1.0383);">(Total),</span> <span class="w" style="margin-left:3.669px;transform:scaleX(1.0159);">Abril</span> <span class="w" style="margin-left:3.327px;transform:scaleX(0.9391);">2–10</span> <span class="w" style="margin-left:2.067px;transform:scaleX(0.9739);">2026</span> <span class="w" style="margin-left:3.185px;transform:scaleX(0.9733);">[Datos</span> <span class="w" style="margin-left:2.115px;transform:scaleX(1.0212);">Ponderados</span> <span class="w" style="margin-left:4.517px;transform:scaleX(0.9843);">Según</span> <span class="w" style="margin-left:2.886px;transform:scaleX(1.0730);">Voto</span> <span class="w" style="margin-left:3.272px;transform:scaleX(1.0494);">2025]</span></p>
<p class="l" style="left:100.60px;top:482.80px;color:#262626;font-weight:bold;--fs:8.0px"><span class="w" style="transform:scaleX(1.0018);">Fuente:</span> <span class="w" style="margin-left:2.830px;transform:scaleX(0.9600);">Encuesta</span> <span class="w" style="margin-left:2.182px;transform:scaleX(0.8800);">de</span> <span class="w" style="margin-left:2.324px;transform:scaleX(1.0086);">Satisfacción</span> <span class="w" style="margin-left:3.417px;transform:scaleX(0.9893);">Política</span> <span class="w" style="margin-left:2.842px;transform:scaleX(0.8471);">y</span> <span class="w" style="margin-left:2.783px;transform:scaleX(1.0542);">Opinión</span> <span class="w" style="margin-left:4.548px;transform:scaleX(0.9929);">Pública</span> <span class="w" style="margin-left:4.350px;transform:scaleX(0.7750);">–</span> <span class="w" style="margin-left:1.117px;transform:scaleX(1.0480);">Universidad</span> <span class="w" style="margin-left:5.007px;transform:scaleX(0.8800);">de</span> <span class="w" style="margin-left:2.141px;transform:scaleX(0.9429);">San</span> <span class="w" style="margin-left:2.422px;transform:scaleX(0.9667);">Andrés</span></p>
<div class="l" style="left:22.34px;top:472.80px;--fs:19.3px"><span class="w" style="transform:scaleX(1.0047);font-weight:bold;color:#141414;-webkit-text-stroke:.45px #141414;">E</span><span class="w" style="margin-left:0.390px;transform:scaleX(0.9826);font-weight:bold;color:#141414;-webkit-text-stroke:.45px #141414;">S</span><span class="w" style="margin-left:-0.168px;transform:scaleX(1.0273);font-weight:bold;color:#141414;-webkit-text-stroke:.45px #141414;">P</span><span class="w" style="margin-left:-0.360px;transform:scaleX(1.0692);font-weight:normal;color:#a9d5eb;-webkit-text-stroke:.5px #a9d5eb;">O</span><span class="w" style="margin-left:1.985px;transform:scaleX(1.0273);font-weight:bold;color:#141414;-webkit-text-stroke:.45px #141414;">P</span></div>
<div class="t" style="left:792.23px;top:469.50px;font-size:6.9px;font-family:'Liberation Serif',serif;color:#333;transform:scaleX(1.0843);-webkit-text-stroke:.15px #333;">Universidad de</div>
<div class="t" style="left:791.29px;top:473.80px;font-size:19.5px;font-family:'Liberation Serif',serif;color:#1a1a1a;transform:scaleX(0.9701);-webkit-text-stroke:.35px #1a1a1a;">SanAndrés</div>
</div>
</body>
</html>
